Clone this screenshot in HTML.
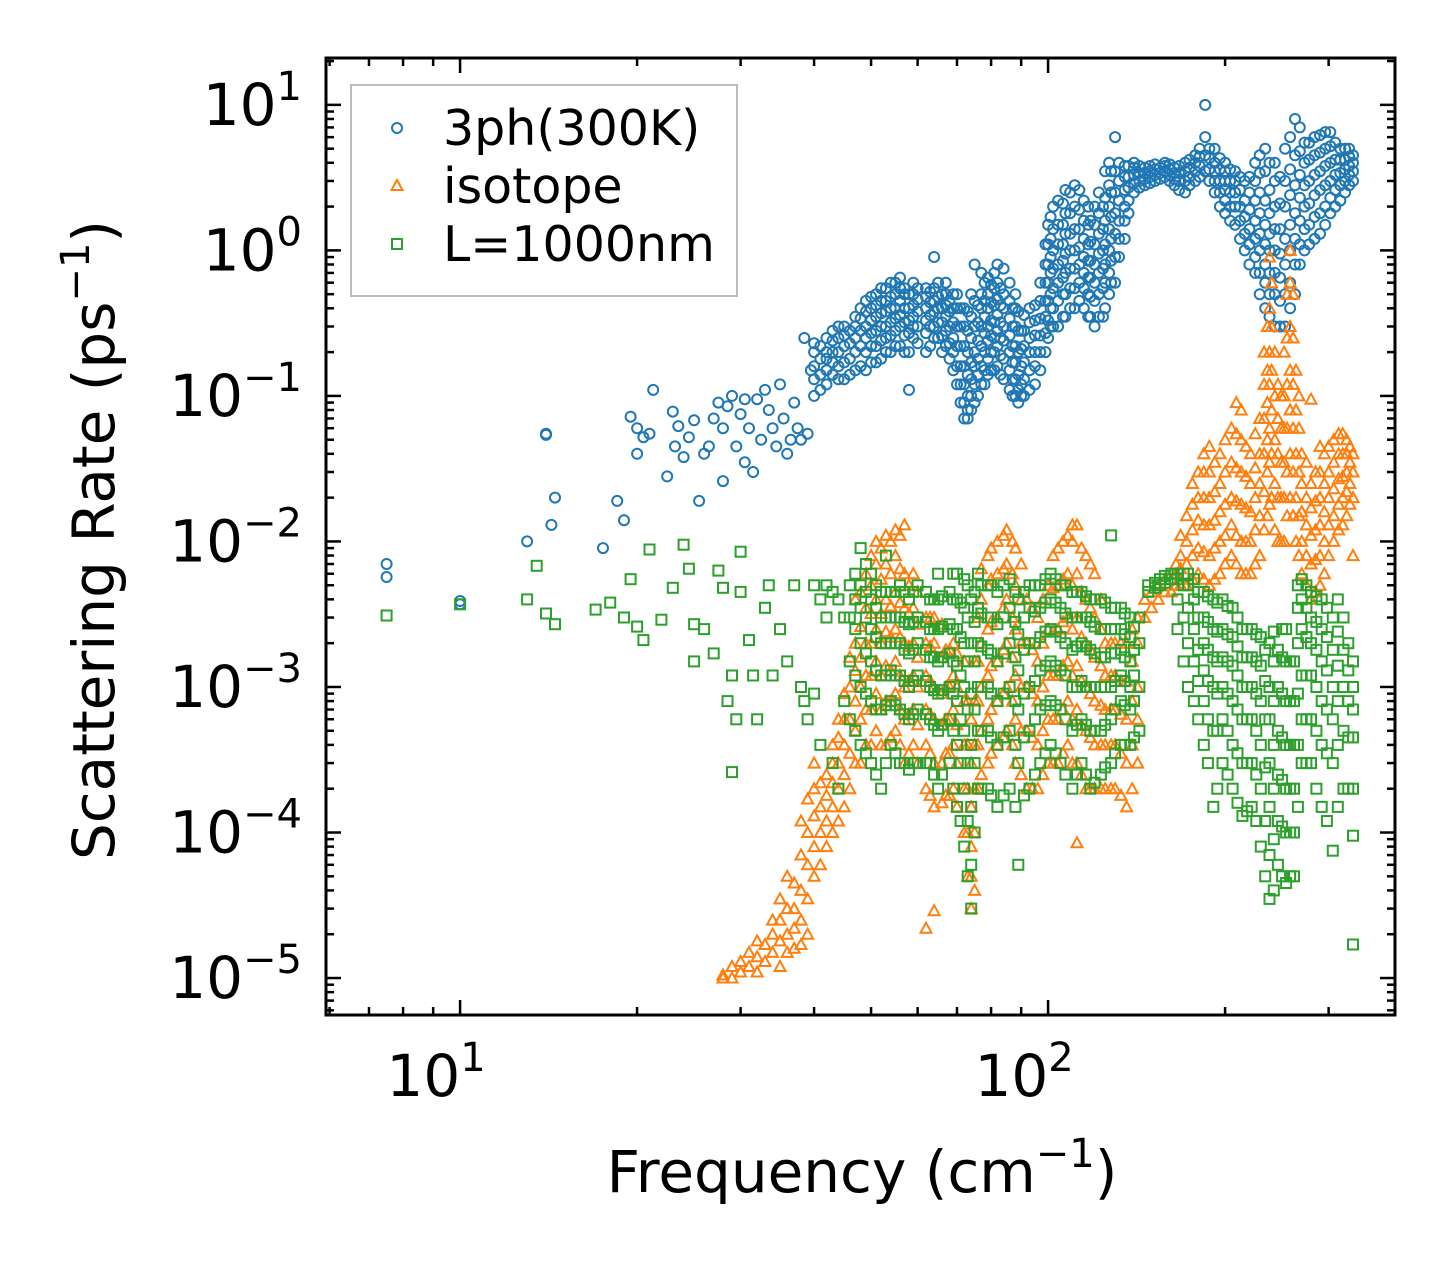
<!DOCTYPE html>
<html><head><meta charset="utf-8"><style>
html,body{margin:0;padding:0;background:#fff}
svg{display:block;font-family:"DejaVu Sans","Liberation Sans",sans-serif}
</style></head><body>
<svg id="chart" width="1455" height="1265" viewBox="0 0 1455 1265" xmlns="http://www.w3.org/2000/svg">
<rect width="1455" height="1265" fill="#fff"/>
<g id="marks"></g>
<g id="axes"></g>
<text x="862" y="1192" font-size="58" text-anchor="middle">Frequency (cm<tspan dy="-25" font-size="40">−1</tspan><tspan dy="25">)</tspan></text>
<text transform="translate(114,540) rotate(-90)" font-size="58" text-anchor="middle">Scattering Rate (ps<tspan dy="-25" font-size="40">−1</tspan><tspan dy="25">)</tspan></text>
<g>
<rect x="351" y="85" width="386" height="211" fill="#fff" stroke="#bbb" stroke-width="2"/>
<circle cx="397" cy="128" r="5" fill="none" stroke="#1f77b4" stroke-width="2"/>
<text x="443" y="145" font-size="49">3ph(300K)</text>
<path d="M397,180 L402.5,190 L391.5,190 Z" fill="none" stroke="#ff7f0e" stroke-width="2"/>
<text x="443" y="203" font-size="49">isotope</text>
<rect x="392" y="239" width="10" height="10" fill="none" stroke="#2ca02c" stroke-width="2"/>
<text x="443" y="261" font-size="49">L=1000nm</text>
</g>
</svg>
<script>
// data: each column = [frequency, rate, rate, ...]
const threePhCols = [
[7.5,0.007,0.0057],[10,0.0039,0.0037],[13,0.01],[14,0.055,0.054],[14.3,0.013],[14.5,0.02],[17.5,0.009],[18.5,0.019],[19,0.014],[19.5,0.072],[20,0.04,0.06],[20.5,0.052],[21,0.055],[21.3,0.11],[22.5,0.028],[23,0.078],[23.2,0.045],[23.5,0.062],[24,0.038],[24.5,0.052],[25,0.068],[25.5,0.019],[26,0.04],[26.5,0.045],[27,0.07],[27.5,0.09],[28,0.06,0.026],[28.5,0.085],[29,0.1],[29.5,0.045],[30,0.075],[30.5,0.035,0.095],[31,0.06],[31.5,0.03],[32,0.095],[32.5,0.05],[33,0.11],[33.5,0.08],[34,0.06],[34.5,0.045],[35,0.12],[35.5,0.07],[36,0.04],[36.5,0.05],[37,0.09],[37.5,0.06],[38,0.05],[38.5,0.25],[39,0.055],[39.5,0.15],
[40,0.1,0.13,0.16,0.2,0.23],[42,0.12,0.15,0.18,0.2,0.25],[43,0.14,0.17,0.2,0.24,0.28],[45,0.13,0.17,0.22,0.26,0.3],[47,0.15,0.2,0.25,0.3,0.35],[49,0.15,0.2,0.25,0.3,0.38,0.45],[51,0.17,0.22,0.28,0.35,0.42,0.5],[53,0.2,0.25,0.3,0.38,0.45,0.55],[55,0.22,0.28,0.34,0.4,0.5,0.6],[57,0.2,0.26,0.32,0.4,0.5,0.55],[58,0.11],[59,0.25,0.3,0.35,0.42,0.5,0.6],[62,0.2,0.27,0.33,0.4,0.48,0.55],[64,0.25,0.3,0.38,0.45,0.55,0.9],[67,0.22,0.28,0.35,0.42,0.5,0.6],[69,0.15,0.2,0.25,0.32,0.4,0.5],[72,0.07,0.09,0.12,0.16,0.22,0.3,0.4],[74,0.08,0.1,0.13,0.17,0.25,0.35,0.5],[75,0.09,0.12,0.16,0.2,0.3,0.45,0.8],[78,0.12,0.15,0.2,0.27,0.35,0.45,0.6],[81,0.15,0.2,0.25,0.32,0.42,0.55,0.7],[84,0.13,0.18,0.24,0.3,0.4,0.5,0.75],[88,0.1,0.13,0.17,0.22,0.3,0.4,0.5],[91,0.1,0.13,0.17,0.22,0.28,0.36],[95,0.12,0.16,0.2,0.26,0.33,0.42],[99,0.2,0.27,0.35,0.45,0.6,0.8,1.1],[102,0.3,0.4,0.55,0.75,1,1.4,2],[107,0.35,0.5,0.7,0.95,1.3,1.8,2.6],[111,0.4,0.55,0.75,1,1.4,2,2.8],[115,0.4,0.55,0.7,0.9,1.2,1.6,2.2],[120,0.3,0.45,0.6,0.8,1.1,1.5,2],[125,0.4,0.6,0.8,1.1,1.6,2.3,3.5],[130,0.6,0.9,1.3,1.8,2.5,3.5,6],[135,1.2,1.6,2,2.6,3.2,3.8],[140,2.5,2.9,3.3,3.7,4],[146,2.8,3.1,3.4,3.7],[152,3,3.3,3.6,3.9],[158,3.2,3.5,3.8,4],[164,2.8,3.1,3.4,3.7],[171,2.5,3,3.5,4],[178,3,3.5,4,4.5],[185,3.5,4.5,6,10],[192,2.5,3,3.5,4,5],[200,1.8,2.2,2.6,3,3.5,4],[208,1.5,2,2.5,3,3.5],[216,1,1.3,1.7,2.2,3],[225,0.7,0.9,1.2,1.6,2.2,3,4],[234,0.4,0.6,0.8,1.1,1.5,2.2,3.5,5],[243,0.3,0.5,0.7,1,1.4,2,3,4],[253,0.3,0.5,0.8,1.2,2,3,5],[263,0.5,0.8,1.2,1.8,2.8,4.5,8],[273,1,1.4,2,2.8,4,5.5],[284,1.2,1.7,2.4,3.3,4.5,6],[296,1.5,2,2.8,3.8,5,6.5],[308,2,2.6,3.3,4.2,5.5],[320,2.5,3,3.6,4.2,5],[330,3,3.5,4,4.5]
];
const threePhExtraCols = [
[41,0.11,0.14,0.18,0.22],[44,0.13,0.16,0.2,0.25,0.3],[46,0.14,0.18,0.23,0.28],[48,0.16,0.22,0.28,0.34,0.4],[50,0.17,0.22,0.27,0.33,0.4,0.48],[52,0.18,0.24,0.3,0.37,0.45,0.55],[54,0.2,0.26,0.32,0.4,0.48,0.6],[56,0.22,0.3,0.36,0.45,0.55,0.65],[58,0.2,0.27,0.33,0.4,0.5],[60,0.23,0.3,0.38,0.46,0.55],[63,0.22,0.3,0.36,0.44,0.52],[65,0.25,0.32,0.4,0.48,0.6],[66,0.2,0.26,0.32,0.4,0.5],[68,0.18,0.23,0.3,0.38,0.45],[70,0.12,0.16,0.22,0.3,0.4,0.5],[71,0.09,0.12,0.16,0.22,0.3,0.4],[73,0.07,0.08,0.1,0.14,0.2,0.28,0.38],[76,0.1,0.14,0.18,0.24,0.32,0.42],[77,0.12,0.16,0.22,0.3,0.4,0.5,0.7],[79,0.14,0.18,0.24,0.3,0.4,0.5,0.65],[80,0.15,0.2,0.26,0.33,0.44,0.58],[82,0.16,0.22,0.28,0.36,0.46,0.6,0.8],[83,0.14,0.19,0.25,0.32,0.42,0.55],[86,0.11,0.15,0.2,0.26,0.34,0.45,0.6],[87,0.1,0.13,0.17,0.22,0.3,0.4],[89,0.09,0.11,0.14,0.2,0.28,0.38],[90,0.1,0.12,0.16,0.21,0.28],[93,0.11,0.15,0.2,0.25,0.32,0.4],[97,0.15,0.2,0.26,0.34,0.45,0.6],[100,0.25,0.33,0.45,0.6,0.8,1.1,1.5],[101,0.3,0.4,0.5,0.7,0.9,1.2,1.7],[104,0.3,0.45,0.6,0.8,1.1,1.5,2.2],[106,0.35,0.5,0.65,0.85,1.1,1.5,2.1],[109,0.4,0.55,0.75,1,1.3,1.8,2.5],[113,0.45,0.6,0.8,1.05,1.4,1.9,2.6],[117,0.35,0.5,0.65,0.85,1.1,1.5,2],[118,0.35,0.48,0.65,0.85,1.15,1.6],[122,0.35,0.5,0.7,0.95,1.3,1.8,2.5],[124,0.35,0.55,0.75,1,1.4,2],[127,0.5,0.7,1,1.4,2,2.8,4],[128,0.6,0.85,1.2,1.7,2.5,3.5],[132,0.9,1.2,1.6,2.2,3,4],[137,1.8,2.2,2.7,3.2,3.8],[143,2.7,3,3.4,3.8],[149,2.9,3.2,3.5,3.8],[155,3.1,3.4,3.7],[161,3,3.3,3.6,3.9],[167,2.6,3,3.4,3.8],[174,2.8,3.2,3.7,4.2],[181,3.2,3.8,4.4,5],[188,3,3.6,4.3,5],[196,2,2.5,3,3.6,4.3],[204,1.6,2,2.5,3,3.6],[212,1.2,1.6,2,2.6,3.2],[220,0.8,1.1,1.4,1.9,2.5,3.2],[229,0.5,0.7,1,1.3,1.8,2.5,3.4,4.5],[238,0.35,0.5,0.7,1,1.3,1.8,2.6,4],[248,0.3,0.45,0.65,0.95,1.4,2.1,3.2],[258,0.4,0.6,1,1.5,2.4,3.6,6],[268,0.8,1.1,1.6,2.3,3.3,4.8,7],[278,1.1,1.5,2.1,3,4.2,5.5],[290,1.3,1.8,2.6,3.5,4.7,6.2],[302,1.8,2.3,3,4,5.2,6.5],[314,2.2,2.8,3.4,4.2,5],[325,2.8,3.3,3.8,4.4,5]
];
const isotopeCols = [
[28,1e-5,1.05e-5],[29,1e-5,1.2e-5],[30,1.1e-5,1.3e-5],[31,1.2e-5,1.5e-5],[32,1.1e-5,1.4e-5,1.8e-5],[33,1.3e-5,1.7e-5],[34,1.5e-5,2e-5,2.5e-5],[35,1.2e-5,1.8e-5,2.5e-5,3.5e-5],[36,1.5e-5,2e-5,3e-5,5e-5],[37,1.6e-5,2.2e-5,3e-5,4.5e-5],[38,1.7e-5,2.5e-5,4e-5,7e-5,1.2e-4],[39,2e-5,3.5e-5,6e-5,1e-4,1.7e-4],[40,5e-5,8e-5,1.3e-4,2e-4,3e-4],[42,8e-5,1.2e-4,1.8e-4,2.5e-4],[43,1e-4,1.5e-4,2.2e-4,3e-4,4e-4],[45,1.5e-4,2.5e-4,4e-4,6e-4,9e-4],[47,3e-4,5e-4,8e-4,1.3e-3,2e-3,4e-3],[49,4e-4,7e-4,1.2e-3,2e-3,3.5e-3,6e-3],[51,5e-4,9e-4,1.5e-3,2.5e-3,4e-3,7e-3,1e-2],[53,4e-4,8e-4,1.4e-3,2.4e-3,4e-3,7e-3,1.1e-2],[55,5e-4,9e-4,1.5e-3,2.5e-3,4.5e-3,8e-3,1.2e-2],[57,3e-4,6e-4,1e-3,2e-3,3.5e-3,6e-3,1.3e-2],[59,4e-4,7e-4,1.2e-3,2e-3,3.5e-3,6e-3],[62,2e-4,4e-4,7e-4,1.2e-3,2e-3,3e-3,2.2e-5],[64,1.5e-4,3e-4,6e-4,1e-3,2e-3,3e-3,2.9e-5],[67,1.8e-4,3.5e-4,6e-4,1e-3,1.8e-3],[69,2e-4,4e-4,7e-4,1.2e-3,2e-3],[72,1e-4,2e-4,4e-4,8e-4,1.5e-3],[74,3e-5,5e-5,8e-5,1.5e-4,3e-4,6e-4],[76,2e-4,4e-4,8e-4,1.5e-3,3e-3],[79,3e-4,6e-4,1.2e-3,2.5e-3,5e-3,8e-3],[82,4e-4,8e-4,1.5e-3,3e-3,6e-3,1e-2],[85,5e-4,1e-3,2e-3,4e-3,7e-3,1.2e-2],[88,3e-4,6e-4,1.2e-3,2.5e-3,5e-3,9e-3],[92,2e-4,5e-4,1e-3,2e-3,4e-3],[96,2e-4,4e-4,8e-4,1.5e-3,3e-3],[100,3e-4,6e-4,1.2e-3,2.5e-3,5e-3],[104,3e-4,6e-4,1.2e-3,2.5e-3,5e-3,9e-3],[108,4e-4,8e-4,1.5e-3,3e-3,6e-3,1.1e-2],[112,8.5e-5,3e-4,7e-4,1.4e-3,3e-3,6e-3,1.3e-2],[116,2e-4,5e-4,1e-3,2e-3,4e-3,8e-3],[120,2e-4,4e-4,8e-4,1.6e-3,3e-3,6e-3],[125,2e-4,4e-4,7e-4,1.2e-3,2e-3],[130,2e-4,4e-4,7e-4,1.2e-3,2e-3],[136,1.5e-4,3e-4,6e-4,1.1e-3,2e-3],[142,3e-4,6e-4,1e-3,2e-3,3e-3],[150,3.5e-3,4.5e-3],[158,4.5e-3,5.5e-3],[165,5e-3,6e-3,7e-3],[172,5e-3,7e-3,1e-2,1.5e-2],[180,6e-3,9e-3,1.4e-2,2e-2,3e-2],[188,5e-3,8e-3,1.3e-2,2e-2,3e-2,4.5e-2],[196,6e-3,1e-2,1.6e-2,2.5e-2,4e-2],[205,8e-3,1.3e-2,2e-2,3.5e-2,6e-2],[213,6e-3,1e-2,1.8e-2,3e-2,5e-2,8e-2],[221,6e-3,1e-2,1.6e-2,2.5e-2,4e-2],[229,8e-3,1.5e-2,2.5e-2,4e-2,7e-2],[236,1.5e-2,3e-2,5e-2,9e-2,0.15,0.3],[240,2e-2,4e-2,8e-2,0.15,0.3,0.6],[246,1e-2,2e-2,4e-2,7e-2,0.12],[252,1e-2,2e-2,3.5e-2,6e-2,0.1,0.2],[258,2e-2,4e-2,0.08,0.15,0.3,0.6,1],[264,1e-2,2e-2,4e-2,8e-2,0.15],[270,6e-3,1e-2,1.6e-2,2.5e-2,4e-2],[280,4e-3,7e-3,1.1e-2,1.7e-2,2.5e-2,9.5e-2],[290,5e-3,8e-3,1.3e-2,2e-2,3e-2,4.5e-2],[300,8e-3,1.3e-2,2e-2,3e-2,4.5e-2],[312,1.2e-2,1.8e-2,2.7e-2,4e-2,5.5e-2],[322,1.5e-2,2.2e-2,3e-2,4e-2,5e-2],[330,8e-3,2e-2,3e-2,4e-2]
];
const isotopeExtraCols = [
[41,6e-5,1e-4,1.5e-4,2.2e-4],[44,1.2e-4,2e-4,3e-4,4.5e-4,6e-4],[46,2e-4,3.5e-4,6e-4,1e-3,1.6e-3],[48,3e-4,6e-4,1e-3,1.6e-3,2.6e-3,4.5e-3],[50,4e-4,7e-4,1.2e-3,2e-3,3.2e-3,5e-3,8e-3],[52,4e-4,7e-4,1.2e-3,2e-3,3.2e-3,5.5e-3,9e-3],[54,4.5e-4,8e-4,1.3e-3,2.2e-3,3.6e-3,6e-3,1e-2],[56,4e-4,7e-4,1.2e-3,2.2e-3,3.8e-3,6.5e-3,1.1e-2],[58,3.5e-4,6.5e-4,1.1e-3,1.9e-3,3.2e-3,5e-3],[60,3e-4,5.5e-4,1e-3,1.6e-3,2.7e-3,4.5e-3],[63,1.8e-4,3.5e-4,6.5e-4,1.1e-3,1.9e-3,3e-3],[66,1.6e-4,3e-4,5.5e-4,9e-4,1.6e-3,2.7e-3],[68,1.8e-4,3.5e-4,6e-4,1e-3,1.8e-3],[70,1.5e-4,3e-4,5.5e-4,1e-3,1.7e-3],[73,5e-5,1e-4,2e-4,4e-4,8e-4],[75,4e-5,1e-4,2e-4,4e-4,8e-4,1.5e-3],[77,2.5e-4,5e-4,1e-3,2e-3,4e-3,6.5e-3],[80,3.5e-4,7e-4,1.4e-3,2.8e-3,5.5e-3,9e-3],[84,4.5e-4,9e-4,1.8e-3,3.5e-3,6.5e-3,1.1e-2],[87,4e-4,8e-4,1.6e-3,3e-3,6e-3,1e-2],[90,2.5e-4,5e-4,1e-3,2e-3,4e-3,7e-3],[94,2e-4,4.5e-4,9e-4,1.8e-3,3.5e-3],[98,2.5e-4,5e-4,1e-3,2e-3,4e-3],[102,3e-4,6e-4,1.2e-3,2.4e-3,4.8e-3,8e-3],[106,3.5e-4,7e-4,1.4e-3,2.8e-3,5.5e-3,1e-2],[110,3e-4,6e-4,1.2e-3,2.5e-3,5e-3,1e-2,1.3e-2],[114,2.5e-4,5.5e-4,1.1e-3,2.2e-3,4.5e-3,9e-3],[118,2e-4,4.5e-4,9e-4,1.8e-3,3.5e-3,7e-3],[123,2e-4,4e-4,7.5e-4,1.4e-3,2.5e-3,4e-3],[128,2e-4,4e-4,7e-4,1.2e-3,2e-3],[133,1.8e-4,3.5e-4,6.5e-4,1.1e-3,2e-3],[139,2e-4,4e-4,8e-4,1.5e-3,2.5e-3],[146,3e-3,4e-3],[154,4e-3,5e-3],[162,4.5e-3,6e-3],[168,5e-3,6.5e-3,8e-3,1.1e-2],[176,5.5e-3,8e-3,1.2e-2,1.8e-2,2.5e-2],[184,5.5e-3,8.5e-3,1.3e-2,2e-2,3e-2,4e-2],[192,5.5e-3,9e-3,1.4e-2,2.2e-2,3.5e-2],[200,7e-3,1.1e-2,1.8e-2,3e-2,5e-2],[209,7e-3,1.1e-2,1.9e-2,3.2e-2,5.5e-2,9e-2],[217,6e-3,1e-2,1.7e-2,2.8e-2,4.5e-2],[225,7e-3,1.2e-2,2e-2,3.2e-2,5.5e-2],[233,1.2e-2,2.2e-2,4e-2,7e-2,0.12,0.2],[238,1.8e-2,3.5e-2,6e-2,0.12,0.2,0.4,0.9],[243,1.2e-2,2.5e-2,5e-2,0.1,0.2],[249,1e-2,2e-2,3.5e-2,6e-2,0.1],[255,1.5e-2,3e-2,6e-2,0.12,0.25,0.5],[261,1.5e-2,3e-2,6e-2,0.12,0.25,0.5],[267,8e-3,1.5e-2,3e-2,6e-2,0.1],[275,5e-3,8e-3,1.3e-2,2e-2,3.5e-2],[285,4.5e-3,7.5e-3,1.2e-2,1.9e-2,3e-2],[295,6e-3,1e-2,1.6e-2,2.5e-2,4e-2],[306,1e-2,1.5e-2,2.3e-2,3.5e-2,5e-2],[317,1.3e-2,2e-2,2.8e-2,4e-2,5.5e-2],[326,1.8e-2,2.5e-2,3.5e-2,4.5e-2]
];
const boundaryCols = [
[7.5,0.0031],[10,0.0037],[13,0.004],[13.5,0.0068],[14,0.0032],[14.5,0.0027],[17,0.0034],[18,0.0038],[19,0.003],[19.5,0.0055],[20,0.0026],[20.5,0.0021],[21,0.0088],[22,0.0029],[23,0.0048],[24,0.0095],[24.5,0.0065],[25,0.0015,0.0027],[26,0.0025],[27,0.0017],[27.5,0.0063],[28,0.0048],[28.5,0.0008],[29,0.00026,0.0012],[29.5,0.0006],[30,0.0085,0.0045],[31,0.0021],[31.5,0.0012],[32,0.0006],[33,0.0035],[33.5,0.005],[34,0.0012],[35,0.0025],[36,0.0015],[37,0.005],[38,0.001],[38.5,0.0008],[39,0.0006],[40,0.0009,0.005],[41,0.0004,0.004],[42,0.003,0.005],[43,0.0003,0.0045],[44,0.0002,0.004],[45,0.0008,0.003],
[46,6e-4,1.5e-3,3e-3,5e-3],[48,4e-4,1e-3,2e-3,3.5e-3,5e-3,9e-3],[50,3e-4,8e-4,1.5e-3,2.5e-3,4e-3,6e-3],[52,2e-4,7e-4,1.2e-3,2e-3,3e-3,4.5e-3],[54,4e-4,8e-4,1.3e-3,2e-3,3e-3,4.5e-3],[56,3e-4,7e-4,1.2e-3,2e-3,3e-3,5e-3],[58,2.7e-4,6e-4,1e-3,1.7e-3,2.7e-3,4e-3],[60,3e-4,7e-4,1.2e-3,2e-3,3e-3,5e-3],[63,3e-4,6e-4,1e-3,1.6e-3,2.5e-3,4e-3],[65,2e-4,5e-4,9e-4,1.5e-3,2.5e-3,4e-3,6e-3],[68,3e-4,6e-4,1e-3,1.7e-3,2.7e-3,4.5e-3],[70,1.5e-4,4e-4,8e-4,1.4e-3,2.5e-3,4e-3,6e-3],[72,8e-5,2e-4,5e-4,1e-3,2e-3,3.5e-3,5.5e-3],[74,3e-5,6e-5,1.5e-4,4e-4,9e-4,2e-3,4e-3],[76,2e-4,5e-4,1e-3,2e-3,3.5e-3,6e-3],[79,2e-4,5e-4,1e-3,1.8e-3,3e-3,5e-3],[82,1.5e-4,4e-4,8e-4,1.5e-3,2.7e-3,4.5e-3],[86,2e-4,5e-4,1e-3,2e-3,3.5e-3,5.5e-3],[89,6e-5,3e-4,7e-4,1.3e-3,2.3e-3,4e-3],[93,2e-4,5e-4,1e-3,2e-3,3.5e-3,5e-3],[97,3e-4,7e-4,1.3e-3,2.2e-3,3.5e-3,5e-3],[101,4e-4,8e-4,1.5e-3,2.5e-3,4e-3,6e-3],[105,3e-4,7e-4,1.3e-3,2.2e-3,3.5e-3,5e-3],[110,2e-4,5e-4,1e-3,1.8e-3,3e-3,4.5e-3],[114,3e-4,6e-4,1.1e-3,2e-3,3e-3,4.5e-3],[118,2e-4,5e-4,1e-3,1.8e-3,2.8e-3,4e-3],[123,2.5e-4,5e-4,1e-3,1.6e-3,2.5e-3,4e-3],[128,3e-4,6e-4,1e-3,1.7e-3,2.5e-3,3.5e-3,1.1e-2],[133,4e-4,8e-4,1.2e-3,1.8e-3,2.5e-3,3.5e-3],[138,4e-4,7e-4,1e-3,1.5e-3,2.2e-3,3e-3],[143,5e-4,1e-3,2e-3,3e-3],[148,4.5e-3,5e-3],[155,5e-3,5.5e-3],[162,5.5e-3,6e-3],[170,1.5e-3,3e-3,5e-3,6e-3],[177,8e-4,1.5e-3,2.5e-3,4e-3,5.5e-3],[184,4e-4,8e-4,1.3e-3,2e-3,3e-3,4.5e-3],[191,1.5e-4,5e-4,1e-3,1.6e-3,2.5e-3,4e-3],[198,3e-4,6e-4,1e-3,1.6e-3,2.5e-3,4e-3],[206,2e-4,4e-4,8e-4,1.4e-3,2.2e-3,3.5e-3],[214,1.3e-4,3e-4,6e-4,1e-3,1.6e-3,2.5e-3],[222,1.5e-4,3e-4,6e-4,1e-3,1.6e-3,2.5e-3],[230,8e-5,2e-4,4e-4,8e-4,1.4e-3,2.2e-3],[238,3.5e-5,7e-5,1.5e-4,3e-4,6e-4,1e-3,2e-3],[246,6e-5,1.2e-4,2.5e-4,5e-4,1e-3,1.8e-3],[254,4.5e-5,1e-4,2e-4,4e-4,8e-4,1.5e-3,2.5e-3],[262,5e-5,1e-4,2e-4,4e-4,8e-4,1.5e-3],[270,3e-4,6e-4,1.2e-3,2.5e-3,4e-3,5.5e-3],[280,3e-4,6e-4,1.2e-3,2e-3,3e-3,4.5e-3],[292,1.5e-4,4e-4,8e-4,1.5e-3,2.5e-3,4e-3],[305,7.5e-5,3e-4,6e-4,1e-3,1.8e-3,3e-3],[318,2e-4,5e-4,1e-3,1.8e-3,3e-3],[330,1.7e-5,9.5e-5,2e-4,4.5e-4,7e-4,1e-3,1.5e-3]
];
const boundaryExtraCols = [
[47,5e-4,1.2e-3,2.5e-3,4e-3,6e-3],[49,3.5e-4,9e-4,1.7e-3,3e-3,4.5e-3,7e-3],[51,2.5e-4,7e-4,1.3e-3,2.2e-3,3.5e-3,5e-3],[53,3e-4,7.5e-4,1.2e-3,2e-3,3e-3,4.5e-3,8e-3],[55,3.5e-4,7.5e-4,1.2e-3,2e-3,3e-3,4.5e-3],[57,3e-4,6.5e-4,1.1e-3,1.8e-3,2.8e-3,4.5e-3],[59,3e-4,6.5e-4,1.1e-3,1.8e-3,2.8e-3,4.5e-3],[62,3e-4,6.5e-4,1.1e-3,1.8e-3,2.8e-3,4.5e-3],[64,2.5e-4,5.5e-4,9.5e-4,1.6e-3,2.5e-3,4e-3],[66,2.5e-4,5.5e-4,9.5e-4,1.6e-3,2.6e-3,4.2e-3],[69,2e-4,5e-4,9e-4,1.5e-3,2.5e-3,4e-3,6e-3],[71,1.2e-4,3e-4,6e-4,1.2e-3,2.2e-3,3.8e-3],[73,5e-5,1.2e-4,3e-4,7e-4,1.5e-3,3e-3,5e-3],[75,1e-4,3e-4,7e-4,1.5e-3,2.8e-3,4.5e-3],[77,2e-4,5e-4,1e-3,1.9e-3,3.2e-3,5e-3],[80,1.8e-4,4.5e-4,9e-4,1.7e-3,3e-3,5e-3],[84,1.8e-4,4.5e-4,9e-4,1.7e-3,3e-3,5e-3],[88,1.5e-4,4e-4,8e-4,1.6e-3,2.8e-3,4.5e-3],[91,1.8e-4,4.5e-4,9e-4,1.8e-3,3e-3,4.5e-3],[95,2.5e-4,6e-4,1.1e-3,2e-3,3.3e-3,5e-3],[99,3.5e-4,7.5e-4,1.4e-3,2.4e-3,3.8e-3,5.5e-3],[103,3.5e-4,7.5e-4,1.4e-3,2.4e-3,3.8e-3,5.5e-3],[107,2.5e-4,6e-4,1.2e-3,2e-3,3.2e-3,5e-3],[112,2.5e-4,5.5e-4,1e-3,1.9e-3,3e-3,4.5e-3],[116,2.5e-4,5.5e-4,1e-3,1.9e-3,3e-3,4.2e-3],[120,2.2e-4,5e-4,1e-3,1.7e-3,2.6e-3,4e-3],[125,2.8e-4,5.5e-4,1e-3,1.6e-3,2.5e-3,3.8e-3],[130,3.5e-4,7e-4,1.1e-3,1.7e-3,2.5e-3,3.5e-3],[135,4e-4,7.5e-4,1.1e-3,1.6e-3,2.3e-3,3.2e-3],[140,4.5e-4,8e-4,1.2e-3,1.8e-3,2.6e-3],[152,4.8e-3,5.2e-3],[158,5.2e-3,5.8e-3],[166,2.5e-3,4e-3,5.5e-3,6e-3],[173,1e-3,2e-3,3.5e-3,5e-3,6e-3],[180,6e-4,1.1e-3,1.8e-3,3e-3,4.5e-3],[187,3e-4,6e-4,1.1e-3,1.8e-3,2.8e-3,4.2e-3],[194,2e-4,5e-4,9e-4,1.5e-3,2.4e-3,3.8e-3],[202,2.5e-4,5e-4,9e-4,1.5e-3,2.3e-3,3.6e-3],[210,1.6e-4,3.5e-4,7e-4,1.2e-3,1.9e-3,3e-3],[218,1.4e-4,3e-4,6e-4,1e-3,1.6e-3,2.5e-3],[226,1.2e-4,2.5e-4,5e-4,9e-4,1.5e-3,2.3e-3],[234,5e-5,1.2e-4,2.8e-4,6e-4,1.1e-3,1.8e-3],[242,4e-5,9e-5,2e-4,4e-4,8e-4,1.5e-3,2.4e-3],[250,5e-5,1.1e-4,2.3e-4,4.5e-4,9e-4,1.6e-3,2.5e-3],[258,5e-5,1e-4,2e-4,4e-4,8e-4,1.5e-3],[266,1.5e-4,4e-4,9e-4,2e-3,3.5e-3,5e-3],[275,3e-4,6e-4,1.2e-3,2.2e-3,3.5e-3,5e-3],[286,2e-4,5e-4,1e-3,1.8e-3,2.8e-3,4.2e-3],[298,1.2e-4,3.5e-4,7e-4,1.3e-3,2.2e-3,3.5e-3],[311,1.5e-4,4e-4,8e-4,1.4e-3,2.4e-3,4e-3],[324,2e-4,4.5e-4,8e-4,1.3e-3,2e-3]
];
const xTickValues = [10, 100];
const xTickExps = ["1", "2"];
const yTickValues = [1e1, 1e0, 1e-1, 1e-2, 1e-3, 1e-4, 1e-5];
const yTickExps = ["1", "0", "−1", "−2", "−3", "−4", "−5"];

const PL = 326, PR = 1395, PT = 58, PB = 1015;
const XMIN = 0.772, XMAX = 2.59, YMIN = -5.254, YMAX = 1.322;
const NS = "http://www.w3.org/2000/svg";
function xs(v){ return PL + (Math.log10(v) - XMIN) / (XMAX - XMIN) * (PR - PL); }
function ys(v){ return PB - (Math.log10(v) - YMIN) / (YMAX - YMIN) * (PB - PT); }
function mk(tag, attrs, parent){ const e = document.createElementNS(NS, tag); for (const k in attrs) e.setAttribute(k, attrs[k]); parent.appendChild(e); return e; }

const marks = document.getElementById('marks');
function drawSeries(cols, color, shape, name){
  const g = mk('g', {fill:'none', stroke:color, 'stroke-width':2}, marks);
  
  
  cols.forEach(c => {
    const x = xs(c[0]);
    for (let i = 1; i < c.length; i++) {
      const y = ys(c[i]);
      let e;
      if (shape === 'circle') e = mk('circle', {cx:x.toFixed(1), cy:y.toFixed(1), r:5}, g);
      else if (shape === 'tri') e = mk('path', {d:`M${x.toFixed(1)},${(y-5.5).toFixed(1)}l5.5,10h-11z`}, g);
      else e = mk('rect', {x:(x-5).toFixed(1), y:(y-5).toFixed(1), width:10, height:10}, g);
      
      
    }
  });
}
drawSeries(threePhCols, '#1f77b4', 'circle', '3ph');
drawSeries(threePhExtraCols, '#1f77b4', 'circle', '3ph');
drawSeries(isotopeCols, '#ff7f0e', 'tri', 'isotope');
drawSeries(isotopeExtraCols, '#ff7f0e', 'tri', 'isotope');
drawSeries(boundaryCols, '#2ca02c', 'square', 'boundary');
drawSeries(boundaryExtraCols, '#2ca02c', 'square', 'boundary');

const axes = document.getElementById('axes');
const frame = mk('rect', {x:PL, y:PT, width:PR-PL, height:PB-PT, fill:'none', stroke:'#000', 'stroke-width':3}, axes);


const tg = mk('g', {stroke:'#000', 'stroke-width':2.5}, axes);


for (let d = 0; d <= 2; d++) for (let m = 1; m <= 9; m++) {
  const v = m * Math.pow(10, d); const x = xs(v);
  if (x < PL || x > PR) continue;
  const L = m === 1 ? 15 : 8;
  mk('line', {x1:x, y1:PB, x2:x, y2:PB-L}, tg);
  mk('line', {x1:x, y1:PT, x2:x, y2:PT+L}, tg);
}
for (let d = -6; d <= 1; d++) for (let m = 1; m <= 9; m++) {
  const v = m * Math.pow(10, d); const y = ys(v);
  if (y < PT || y > PB) continue;
  const L = m === 1 ? 15 : 8;
  mk('line', {x1:PL, y1:y, x2:PL+L, y2:y}, tg);
  mk('line', {x1:PR, y1:y, x2:PR-L, y2:y}, tg);
}
xTickValues.forEach((v, i) => {
  const t = mk('text', {x:xs(v)-24, y:1096, 'font-size':58, 'text-anchor':'middle'}, axes);
  
  
  t.innerHTML = '10<tspan dy="-25" font-size="40">' + xTickExps[i] + '</tspan>';
});
yTickValues.forEach((v, i) => {
  const t = mk('text', {x:302, y:ys(v)+20, 'font-size':58, 'text-anchor':'end'}, axes);
  
  
  t.innerHTML = '10<tspan dy="-25" font-size="40">' + yTickExps[i] + '</tspan>';
});
</script>
</body></html>
